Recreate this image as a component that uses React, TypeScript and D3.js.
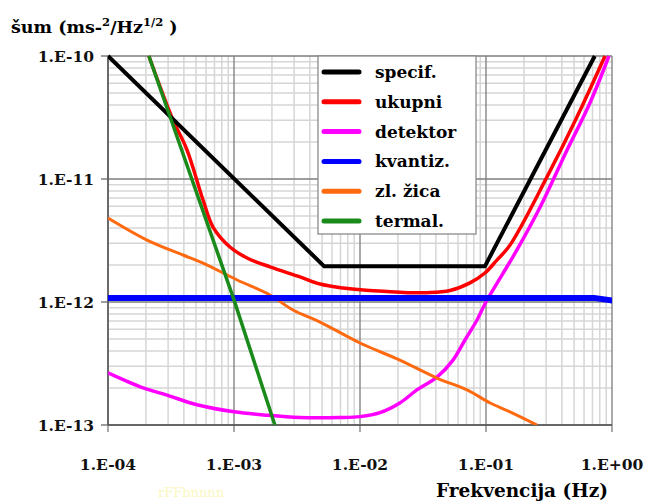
import React from "react";
import * as d3 from "d3";

// frequency (Hz), noise (ms^-2/Hz^1/2) pairs
const specif: [number, number][] = [
  [1e-4, 1e-10], [5.2e-3, 1.95e-12], [0.098, 1.95e-12], [0.73, 1e-10],
];
const ukupni: [number, number][] = [
  [2.11e-4, 1e-10], [3.28e-4, 3.02e-11], [4.24e-4, 1.72e-11], [5.68e-4, 6.75e-12],
  [6.81e-4, 4.07e-12], [9.29e-4, 2.8e-12], [1.27e-3, 2.28e-12], [1.93e-3, 1.93e-12],
  [3.34e-3, 1.6e-12], [4.82e-3, 1.4e-12], [7.33e-3, 1.3e-12], [1.06e-2, 1.25e-12],
  [1.64e-2, 1.22e-12], [2.49e-2, 1.19e-12], [3.4e-2, 1.19e-12], [5.18e-2, 1.24e-12],
  [7.46e-2, 1.43e-12], [0.098, 1.72e-12], [0.122, 2.19e-12], [0.155, 2.9e-12],
  [0.305, 1.04e-11], [0.527, 3.19e-11], [0.88, 1e-10],
];
const detektor: [number, number][] = [
  [1e-4, 2.65e-13], [1.9e-4, 2.0e-13], [2.94e-4, 1.75e-13], [5.08e-4, 1.46e-13],
  [1e-3, 1.28e-13], [1.83e-3, 1.2e-13], [3.34e-3, 1.15e-13], [6.93e-3, 1.15e-13],
  [1e-2, 1.17e-13], [1.44e-2, 1.26e-13], [2.07e-2, 1.51e-13], [2.83e-2, 1.93e-13],
  [4.08e-2, 2.45e-13], [5.47e-2, 3.37e-13], [6.81e-2, 4.91e-13], [8.49e-2, 7.14e-13],
  [0.1, 1e-12], [0.176, 2.65e-12], [0.269, 5.92e-12], [0.44, 1.72e-11],
  [0.668, 4.15e-11], [0.946, 1e-10],
];
const kvantiz: [number, number][] = [
  [1e-4, 1.08e-12], [0.72, 1.08e-12], [1.05, 1.02e-12],
];
const zlZica: [number, number][] = [
  [1e-4, 4.82e-12], [2.04e-4, 3.19e-12], [3.94e-4, 2.41e-12], [5.68e-4, 2.07e-12],
  [1.06e-3, 1.51e-12], [1.93e-3, 1.14e-12], [2.94e-3, 8.61e-13], [4.82e-3, 6.87e-13],
  [1e-2, 4.64e-13], [2.07e-2, 3.37e-13], [4.08e-2, 2.41e-13], [7.06e-2, 1.93e-13],
  [0.108, 1.51e-13], [0.155, 1.28e-13], [0.254, 1e-13],
];
const termal: [number, number][] = [
  [2.11e-4, 1e-10], [1e-3, 1.04e-12], [2.11e-3, 1e-13],
];

const xTicks = [1e-4, 1e-3, 1e-2, 1e-1, 1];
const xTickLabels = ["1.E-04", "1.E-03", "1.E-02", "1.E-01", "1.E+00"];
const yTicks = [1e-10, 1e-11, 1e-12, 1e-13];
const yTickLabels = ["1.E-10", "1.E-11", "1.E-12", "1.E-13"];

const legendNames = ["specif.", "ukupni", "detektor", "kvantiz.", "zl. žica", "termal."];
const colors = ["#000000", "#ff0000", "#ff00ff", "#0000ff", "#ff6a10", "#1a8a1a"];

// only serif face that resolves in the sandbox
const FONT = "DejaVu Serif";

const App = () => {
  const width = 649;
  const height = 502;
  const m = { left: 108, right: 612, top: 56, bottom: 425 };

  const x = d3.scaleLog().domain([1e-4, 1]).range([m.left, m.right]);
  const y = d3.scaleLog().domain([1e-13, 1e-10]).range([m.bottom, m.top]);

  const line = d3
    .line<[number, number]>()
    .x((d) => x(d[0]))
    .y((d) => y(d[1]))
    .curve(d3.curveCatmullRom.alpha(0.5));
  const straight = d3
    .line<[number, number]>()
    .x((d) => x(d[0]))
    .y((d) => y(d[1]));

  const xMinor: number[] = [];
  for (let e = -4; e < 0; e++) for (let k = 2; k <= 9; k++) xMinor.push(k * Math.pow(10, e));
  const yMinor: number[] = [];
  for (let e = -13; e < -10; e++) for (let k = 2; k <= 9; k++) yMinor.push(k * Math.pow(10, e));

  // draw order: bottom first
  const series = [
    { data: detektor, color: colors[2], w: 3.5, gen: line },
    { data: zlZica, color: colors[4], w: 3, gen: line },
    { data: ukupni, color: colors[1], w: 3.5, gen: line },
    { data: specif, color: colors[0], w: 4, gen: straight },
    { data: kvantiz, color: colors[3], w: 6, gen: straight },
    { data: termal, color: colors[5], w: 3.5, gen: straight },
  ];

  const lg = { x: 318, y: 56, w: 158, h: 178, rowH: 29.8 };

  return (
    <svg
      width={width}
      height={height}
      fontFamily={FONT}
      fontWeight="bold"
      style={{ position: "absolute", left: 0, top: 0, background: "#fff" }}
    >
      <defs>
        <clipPath id="plot">
          <rect x={m.left} y={m.top - 2} width={m.right - m.left} height={m.bottom - m.top + 2} />
        </clipPath>
      </defs>

      {/* grid */}
      {xMinor.map((v, i) => (
        <line key={"xm" + i} x1={x(v)} x2={x(v)} y1={m.top} y2={m.bottom} stroke="#d6d6d6" strokeWidth={1.5} />
      ))}
      {yMinor.map((v, i) => (
        <line key={"ym" + i} x1={m.left} x2={m.right} y1={y(v)} y2={y(v)} stroke="#d6d6d6" strokeWidth={1.5} />
      ))}
      {xTicks.map((v, i) => (
        <line key={"xM" + i} x1={x(v)} x2={x(v)} y1={m.top} y2={m.bottom + 7} stroke="#7c7c7c" strokeWidth={1.3} />
      ))}
      {yTicks.map((v, i) => (
        <line key={"yM" + i} x1={m.left - 7} x2={m.right} y1={y(v)} y2={y(v)} stroke="#7c7c7c" strokeWidth={1.3} />
      ))}
      <line x1={m.left} x2={m.left} y1={m.top} y2={m.bottom} stroke="#555" strokeWidth={1.5} />
      <line x1={m.left} x2={m.right} y1={m.bottom} y2={m.bottom} stroke="#555" strokeWidth={1.5} />

      {/* curves */}
      <g clipPath="url(#plot)">
        {series.map((s, i) => (
          <path key={i} d={s.gen(s.data) || ""} fill="none" stroke={s.color} strokeWidth={s.w} strokeLinejoin="round" />
        ))}
      </g>

      {/* legend */}
      <rect x={lg.x} y={lg.y} width={lg.w} height={lg.h} fill="#fff" stroke="#8a8a8a" strokeWidth={1.3} />
      {legendNames.map((name, i) => {
        const cy = lg.y + 16 + i * lg.rowH;
        return (
          <g key={name}>
            <line x1={lg.x + 6} x2={lg.x + 41} y1={cy} y2={cy} stroke={colors[i]} strokeWidth={5} strokeLinecap="round" />
            <text x={lg.x + 57} y={cy + 6} fontSize={17} fill="#000">
              {name}
            </text>
          </g>
        );
      })}

      {/* axis labels */}
      {yTicks.map((v, i) => (
        <text key={"yl" + i} x={94} y={y(v) + 6} textAnchor="end" fontSize={15.5} fill="#111">
          {yTickLabels[i]}
        </text>
      ))}
      {xTicks.map((v, i) => (
        <text key={"xl" + i} x={x(v)} y={470} textAnchor="middle" fontSize={15.5} fill="#111">
          {xTickLabels[i]}
        </text>
      ))}

      <text x={11} y={33} fontSize={17.5} fill="#000">
        šum (ms-
        <tspan fontSize={11.5} dy={-7}>2</tspan>
        <tspan dy={7}>/Hz</tspan>
        <tspan fontSize={11.5} dy={-7}>1/2</tspan>
        <tspan dy={7}> )</tspan>
      </text>
      <text x={436} y={497} fontSize={18.5} fill="#000">
        Frekvencija (Hz)
      </text>
      <text x={158} y={497} fontSize={13} fontWeight="normal" fill="#fbf7c0">
        rFFbnnnn
      </text>
    </svg>
  );
};

export default App;
